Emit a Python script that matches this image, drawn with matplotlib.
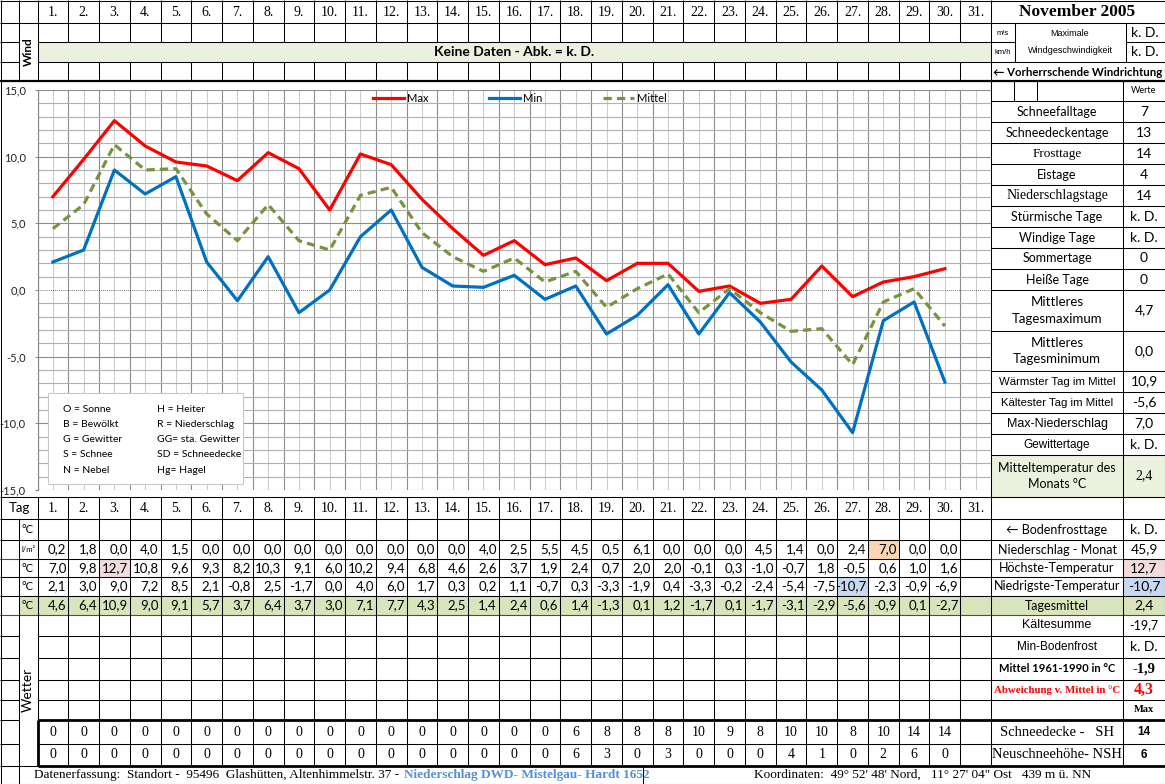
import numpy as np
import matplotlib
matplotlib.use('Agg')
import matplotlib.pyplot as plt
from matplotlib.patches import Rectangle
from matplotlib.ticker import MultipleLocator, FixedLocator, FuncFormatter

# Monatsdaten November 2005
days = list(range(1, 32))
t_max = [7.0, 9.8, 12.7, 10.8, 9.6, 9.3, 8.2, 10.3, 9.1, 6.0, 10.2, 9.4, 6.8, 4.6, 2.6,
         3.7, 1.9, 2.4, 0.7, 2.0, 2.0, -0.1, 0.3, -1.0, -0.7, 1.8, -0.5, 0.6, 1.0, 1.6]
t_min = [2.1, 3.0, 9.0, 7.2, 8.5, 2.1, -0.8, 2.5, -1.7, 0.0, 4.0, 6.0, 1.7, 0.3, 0.2,
         1.1, -0.7, 0.3, -3.3, -1.9, 0.4, -3.3, -0.2, -2.4, -5.4, -7.5, -10.7, -2.3, -0.9, -6.9]
t_mid = [4.6, 6.4, 10.9, 9.0, 9.1, 5.7, 3.7, 6.4, 3.7, 3.0, 7.1, 7.7, 4.3, 2.5, 1.4,
         2.4, 0.6, 1.4, -1.3, 0.1, 1.2, -1.7, 0.1, -1.7, -3.1, -2.9, -5.6, -0.9, 0.1, -2.7]
rain = [0.2, 1.8, 0.0, 4.0, 1.5, 0.0, 0.0, 0.0, 0.0, 0.0, 0.0, 0.0, 0.0, 0.0, 4.0,
        2.5, 5.5, 4.5, 0.5, 6.1, 0.0, 0.0, 0.0, 4.5, 1.4, 0.0, 2.4, 7.0, 0.0, 0.0]
snow_sh = [0, 0, 0, 0, 0, 0, 0, 0, 0, 0, 0, 0, 0, 0, 0,
           0, 0, 6, 8, 8, 8, 10, 9, 8, 10, 10, 8, 10, 14, 14]
snow_nsh = [0, 0, 0, 0, 0, 0, 0, 0, 0, 0, 0, 0, 0, 0, 0,
            0, 0, 6, 3, 0, 3, 0, 0, 0, 4, 1, 0, 2, 6, 0]

stat_labels = ['Schneefalltage', 'Schneedeckentage', 'Frosttage', 'Eistage', 'Niederschlagstage',
               'Stürmische Tage', 'Windige Tage', 'Sommertage', 'Heiße Tage',
               'Mittleres\nTagesmaximum', 'Mittleres\nTagesminimum', 'Wärmster Tag im Mittel',
               'Kältester Tag im Mittel', 'Max-Niederschlag', 'Gewittertage',
               'Mitteltemperatur des\nMonats °C']
stat_values = ['7', '13', '14', '4', '14', 'k. D.', 'k. D.', '0', '0',
               '4,7', '0,0', '10,9', '-5,6', '7,0', 'k. D.', '2,4']

sum_labels = ['← Bodenfrosttage', 'Niederschlag - Monat', 'Höchste-Temperatur',
              'Niedrigste-Temperatur', 'Tagesmittel', 'Kältesumme', 'Min-Bodenfrost',
              'Mittel 1961-1990 in °C', 'Abweichung v. Mittel in °C', '',
              'Schneedecke -   SH', 'Neuschneehöhe- NSH']
sum_values = ['k. D.', '45,9', '12,7', '-10,7', '2,4', '-19,7', 'k. D.',
              '-1,9', '4,3', 'Max', '14', '6']

wx_left = ['O = Sonne', 'B = Bewölkt', 'G = Gewitter', 'S = Schnee', 'N = Nebel']
wx_right = ['H = Heiter', 'R = Niederschlag', 'GG= sta. Gewitter', 'SD = Schneedecke', 'Hg= Hagel']

SANS = ['Lato', 'DejaVu Sans']
SERIF = ['Liberation Serif', 'DejaVu Serif']
ARIAL = ['Liberation Sans', 'DejaVu Sans']
plt.rcParams['font.family'] = SANS

W, H = 1165, 784
X0, X1 = 37.5, 991
xs = np.linspace(X0, X1, 32)
xc = (xs[:-1] + xs[1:]) / 2

fig = plt.figure(figsize=(W / 100, H / 100), dpi=100)
base = fig.add_axes([0, 0, 1, 1])
base.set_xlim(0, W)
base.set_ylim(H, 0)
base.axis('off')


def hl(y, x0=0, x1=W, lw=0.75, c='black'):
    base.plot([x0, x1], [y, y], color=c, lw=lw, solid_capstyle='butt', zorder=2)


def vl(x, y0, y1, lw=0.75, c='black'):
    base.plot([x, x], [y0, y1], color=c, lw=lw, solid_capstyle='butt', zorder=2)


def put(x, y, s, size=9.5, fam=SANS, weight='normal', color='black', ha='center', rot=0, ax=None):
    ax = ax or base
    return ax.text(x, y, s, fontsize=size, family=fam, fontweight=weight, color=color,
                   ha=ha, va='center', rotation=rot, linespacing=1.45, zorder=3)


def fill(x, y, w, h, c):
    base.add_patch(Rectangle((x, y), w, h, fc=c, lw=0, zorder=1))


def fmt(v):
    return f'{v:.1f}'.replace('.', ',')


# ---------- Kopfbereich (Wind) ----------
fill(X0, 42, X1 - X0, 20, '#EBF1DE')
hl(0.5)
hl(23)
hl(42, 0, 19); hl(42, X0, 1015); hl(42, 1126, W)
hl(62, 0, 19); hl(62, X0, W)
hl(81, 0, W, lw=1.6)
vl(19, 0, 81); vl(X0, 0, 81)
for x in xs[1:-1]:
    vl(x, 0, 42)
    vl(x, 62, 81)
vl(X1, 0, 81)
vl(1015, 23, 62); vl(1126, 23, 62)

for k in range(31):
    put(xc[k], 12, f'{days[k]}.', size=10, fam=SERIF)
put(1077, 12, 'November 2005', size=12.5, fam=SERIF, weight='bold')
put(28, 52, 'Wind', size=8.5, weight='bold', rot=90)
put((X0 + X1) / 2, 52, 'Keine Daten - Abk. = k. D.', size=10, weight='bold')
put(1003, 33, 'm/s', size=5.5, fam=ARIAL)
put(1003, 52, 'km/h', size=5.5, fam=ARIAL)
put(1070, 33, 'Maximale', size=6.5, fam=ARIAL)
put(1070, 50, 'Windgeschwindigkeit', size=6.5, fam=ARIAL)
put(1145, 33, 'k. D.', size=10)
put(1145, 52, 'k. D.', size=10)
put(1078, 72, '← Vorherrschende Windrichtung', size=8.2, weight='bold')

# ---------- Statistik rechts ----------
stat_h = [21, 21, 21, 21, 21, 21, 21, 21, 21, 41, 40, 21, 21, 21, 21, 42]
stat_fam = [SANS, SANS, SERIF, SANS, SERIF, SANS, SANS, SANS, SANS, SANS, SANS,
            ARIAL, ARIAL, ARIAL, ARIAL, SANS]
stat_size = [9, 9, 9.5, 9, 10, 9, 9, 9, 9, 9.5, 9.5, 8.2, 8.2, 9, 8.5, 9]
sy = [101]
for h in stat_h:
    sy.append(sy[-1] + h)
fill(X1, sy[-2], W - X1, sy[-1] - sy[-2], '#EBF1DE')
vl(X1, 81, 497); vl(1123, 81, 497)
vl(1014, 81, 101); vl(1037, 81, 101)
for y in sy:
    hl(y, X1, W)
put(1144, 90, 'Werte', size=6.5)
for i, (lab, val) in enumerate(zip(stat_labels, stat_values)):
    yc = (sy[i] + sy[i + 1]) / 2
    put(1057, yc, lab, size=stat_size[i], fam=stat_fam[i])
    put(1144, yc, val, size=10, fam=SERIF if i == 15 else SANS)

# ---------- Tabelle unten ----------
rb = [497, 519, 540, 559, 577, 596, 615, 636, 658, 680, 700, 720, 744, 766, 784]
rcen = [(rb[i] + rb[i + 1]) / 2 for i in range(len(rb) - 1)]
fill(19, rb[5], W - 19, rb[6] - rb[5], '#D8E4BC')
i_hi = t_max.index(max(t_max))
i_lo = t_min.index(min(t_min))
i_rain = rain.index(max(rain))
fill(xs[i_hi], rb[3], xs[1] - xs[0], rb[4] - rb[3], '#F2DCDB')
fill(xs[i_lo], rb[4], xs[1] - xs[0], rb[5] - rb[4], '#C6D9F0')
fill(xs[i_rain], rb[2], xs[1] - xs[0], rb[3] - rb[2], '#FCD5B4')
fill(1123, rb[3], W - 1123, rb[4] - rb[3], '#F2DCDB')
fill(1123, rb[4], W - 1123, rb[5] - rb[4], '#C6D9F0')

hl(497, 0, W)
for y in rb[1:7]:
    hl(y, 0, W)
for y in rb[7:11]:
    hl(y, 0, 19); hl(y, X0, W)
hl(720, 0, 19); hl(720, X0, W, lw=2)
hl(744, 0, 19); hl(744, X0, W)
hl(766, 0, X0); hl(766, X0, W, lw=2)
hl(H - 0.5)
hl(559, 0, 19, c='red'); hl(559, X1, 1123, c='red')
hl(615, 0, W, c='red')
vl(19, 519, H)
vl(X0, 497, 720); vl(X0, 720, 766, lw=2)
for x in xs[1:-1]:
    vl(x, 497, 766)
vl(X1, 497, 766); vl(1123, 497, 766)
vl(643, 766, H)
vl(0.5, 0, H); vl(W - 0.5, 0, H)

put(19, rcen[0], 'Tag', size=9.5)
for k in range(31):
    put(xc[k], rcen[0], f'{days[k]}.', size=10, fam=SERIF)
units = ['°C', 'l/m²', '°C', '°C', '°C']
for i, u in enumerate(units):
    put(28, rcen[i + 1], u, size=5.5 if i == 1 else 8)
for row, series in zip([2, 3, 4, 5], [rain, t_max, t_min, t_mid]):
    for k, v in enumerate(series):
        put(xs[k + 1] - 2, rcen[row], fmt(v), size=9.5, ha='right')
for row, series in zip([11, 12], [snow_sh, snow_nsh]):
    for k, v in enumerate(series):
        put(xc[k], rcen[row], str(v), size=10, fam=SERIF)
put(28, 690, 'Wetter', size=10, rot=90)

sum_style = [(SANS, 9, 'normal', 'black'), (SANS, 9, 'normal', 'black'), (SANS, 9, 'normal', 'black'),
             (SANS, 9, 'normal', 'black'), (SANS, 9, 'normal', 'black'), (ARIAL, 9, 'normal', 'black'),
             (ARIAL, 8.5, 'normal', 'black'), (SANS, 8, 'bold', 'black'), (SERIF, 7.8, 'bold', 'red'),
             (SANS, 9, 'normal', 'black'), (SERIF, 10.5, 'normal', 'black'), (SERIF, 10.5, 'normal', 'black')]
val_style = [(SANS, 10, 'normal', 'black'), (SANS, 10, 'normal', 'black'), (SANS, 10, 'normal', 'black'),
             (SANS, 10, 'normal', 'black'), (SANS, 10, 'normal', 'black'), (SANS, 9, 'normal', 'black'),
             (SANS, 10, 'normal', 'black'), (SERIF, 10.5, 'bold', 'black'), (SERIF, 11.5, 'bold', 'red'),
             (SERIF, 7.5, 'bold', 'black'), (ARIAL, 8.5, 'bold', 'black'), (ARIAL, 8.5, 'bold', 'black')]
for i, (lab, val) in enumerate(zip(sum_labels, sum_values)):
    f, s, w, c = sum_style[i]
    put(1057, rcen[i + 1], lab, size=s, fam=f, weight=w, color=c)
    f, s, w, c = val_style[i]
    put(1144, rcen[i + 1], val, size=s, fam=f, weight=w, color=c)

t1 = put(34, rcen[13], 'Datenerfassung:  Standort -  95496  Glashütten, Altenhimmelstr. 37 - ',
         size=9.5, fam=SERIF, ha='left')
fig.canvas.draw()
bb = t1.get_window_extent(renderer=fig.canvas.get_renderer())
put(bb.x1 + 2, rcen[13], 'Niederschlag DWD- Mistelgau- Hardt 1652', size=9.5, fam=SERIF,
    weight='bold', color='#558ED5', ha='left')
put(923, rcen[13], 'Koordinaten:  49° 52\' 48\' Nord,   11° 27\' 04" Ost   439 m ü. NN',
    size=9.5, fam=SERIF)

# ---------- Diagramm ----------
ax = fig.add_axes([X0 / W, 1 - 490 / H, (X1 - X0) / W, 400 / H], zorder=2)
ax.set_xlim(0, 31)
ax.set_ylim(-15, 15)
ax.xaxis.set_major_locator(MultipleLocator(1))
ax.xaxis.set_minor_locator(FixedLocator(np.arange(0.5, 31, 1)))
ax.yaxis.set_major_locator(MultipleLocator(5))
ax.yaxis.set_minor_locator(MultipleLocator(1))
ax.yaxis.set_major_formatter(FuncFormatter(lambda v, p: fmt(v)))
ax.set_axisbelow(True)
ax.xaxis.grid(True, which='major', color='#8c8c8c', lw=0.8)
ax.xaxis.grid(True, which='minor', color='#cccccc', lw=0.8)
ax.yaxis.grid(True, which='minor', color='#b0b0b0', lw=0.8)
for v in [-15, -10, -5, 5, 10, 15]:
    ax.axhline(v, color='#8c8c8c', lw=0.8, zorder=1)
ax.axhline(0, color='#444444', lw=0.6, ls=(0, (1, 1.5)), zorder=1.2)
ax.tick_params(axis='x', which='both', length=0, labelbottom=False)
ax.tick_params(axis='y', which='minor', length=0)
ax.tick_params(axis='y', which='major', length=2.5, width=0.7, color='#868686', pad=6,
               labelsize=8, labelcolor='#222222')
for s in ['top', 'right', 'bottom']:
    ax.spines[s].set_visible(False)
ax.spines['left'].set_color('#868686')

xd = np.arange(len(t_max)) + 0.5
ax.plot(xd, t_max, color='#FF0000', lw=2.3, label='Max', zorder=3)
ax.plot(xd, t_min, color='#0070C0', lw=2.3, label='Min', zorder=3)
ax.plot(xd, t_mid, color='#77933C', lw=2.3, ls=(0, (2.6, 1.6)), label='Mittel', zorder=3)
ax.legend(loc='center', bbox_to_anchor=(0.506, 0.98), ncol=3, frameon=False, fontsize=8,
          handlelength=2.8, handletextpad=0.3, columnspacing=5.4, borderpad=0)

# Wetter-Legende
top = fig.add_axes([0, 0, 1, 1], zorder=4)
top.set_xlim(0, W)
top.set_ylim(H, 0)
top.axis('off')
top.patch.set_alpha(0)
top.add_patch(Rectangle((48, 393), 195, 91, fc='white', ec='#c8c8c8', lw=0.8))
wy = [409, 424, 439, 454, 470]
for i in range(5):
    put(63, wy[i], wx_left[i], size=7.5, ha='left', ax=top)
    put(157, wy[i], wx_right[i], size=7.5, ha='left', ax=top)

fig.savefig('out.png', dpi=100)
